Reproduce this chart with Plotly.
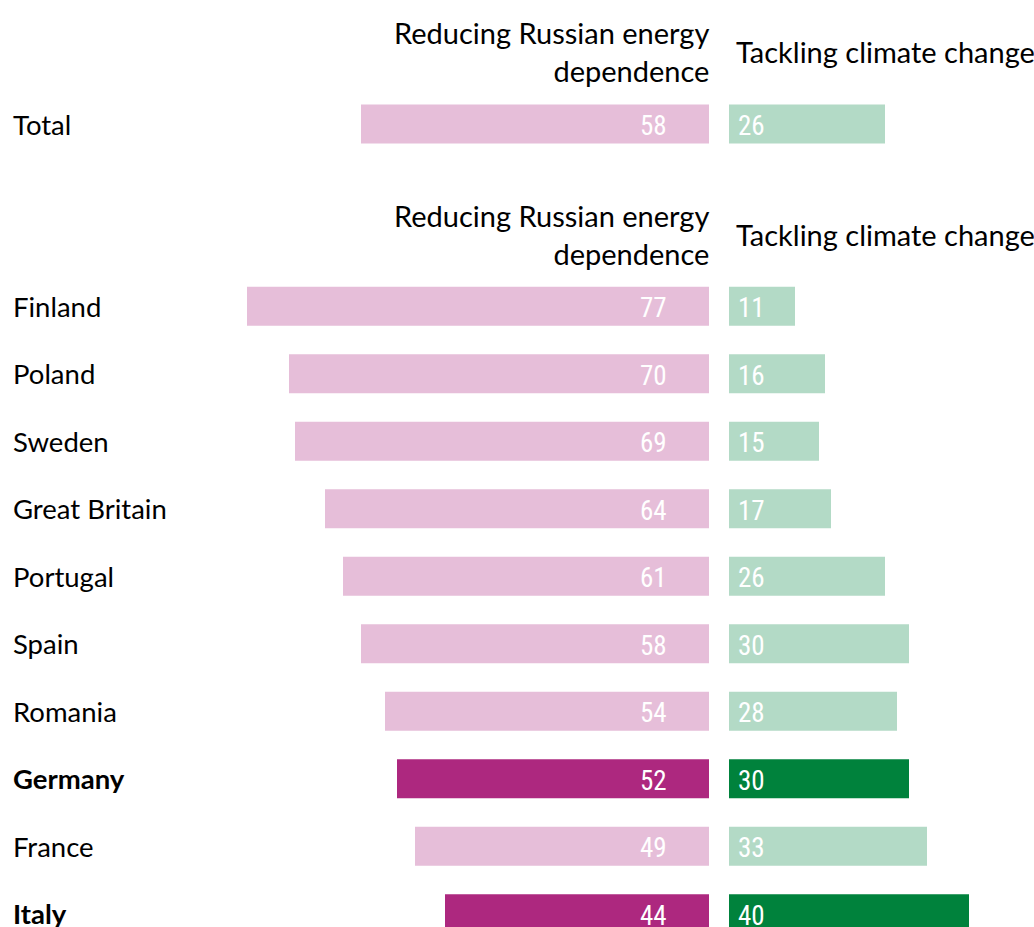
import plotly.graph_objects as go

# Survey shares (%) by country: priority for reducing Russian energy dependence vs tackling climate change
countries = ["Finland", "Poland", "Sweden", "Great Britain", "Portugal",
             "Spain", "Romania", "Germany", "France", "Italy"]
energy = [77, 70, 69, 64, 61, 58, 54, 52, 49, 44]
climate = [11, 16, 15, 17, 26, 30, 28, 30, 33, 40]
highlighted = ["Germany", "Italy"]

total_label = "Total"
total_energy = 58
total_climate = 26

energy_header = "Reducing Russian energy<br>dependence"
climate_header = "Tackling climate change"

PINK_LIGHT, PINK_DARK = "#E6BED9", "#AD287F"
GREEN_LIGHT, GREEN_DARK = "#B3DAC6", "#00823C"

FONT = "Lato, 'Noto Sans', sans-serif"
NUM_FONT = "'Liberation Sans Narrow', 'Roboto Condensed', 'DejaVu Sans Condensed', sans-serif"

W, H = 1034, 927
ROW_PX = 67.5          # vertical spacing between rows, in pixels
TOP_PX = 124           # pixel centre of the Total row
GAP = 2.7              # rows between Total and first country

labels = [total_label] + countries
e_vals = [total_energy] + energy
c_vals = [total_climate] + climate
ypos = [0] + [GAP + i for i in range(len(countries))]
bold = [lab in highlighted for lab in labels]
e_cols = [PINK_DARK if b else PINK_LIGHT for b in bold]
c_cols = [GREEN_DARK if b else GREEN_LIGHT for b in bold]

# Pixel scale: 6 px per percentage point, pink bars grow left from x=709, green right from x=729
PX_PER = 6.0
E_BASE, C_BASE = 709, 729
x1_range = [E_BASE / PX_PER, (E_BASE - W) / PX_PER]
x2_range = [-C_BASE / PX_PER, (W - C_BASE) / PX_PER]
y_range = [(H - TOP_PX) / ROW_PX, -TOP_PX / ROW_PX]

BAR_W = 39 / ROW_PX

fig = go.Figure()
fig.add_trace(go.Bar(
    x=e_vals, y=ypos, orientation="h", width=BAR_W,
    marker=dict(color=e_cols, line=dict(width=0)),
    xaxis="x", yaxis="y", hoverinfo="skip",
))
fig.add_trace(go.Bar(
    x=c_vals, y=ypos, orientation="h", width=BAR_W,
    marker=dict(color=c_cols, line=dict(width=0)),
    xaxis="x2", yaxis="y", hoverinfo="skip",
))

annotations = []

# Value labels inside the bars, near their shared base
num_font = dict(family=NUM_FONT, size=27, color="white")
for y, ev, cv in zip(ypos, e_vals, c_vals):
    annotations.append(dict(
        x=0, xref="x", y=y, yref="y", xanchor="right", yanchor="middle",
        xshift=-40, yshift=-2, text=str(ev), showarrow=False, font=num_font,
    ))
    annotations.append(dict(
        x=0, xref="x2", y=y, yref="y", xanchor="left", yanchor="middle",
        xshift=7, yshift=-2, text=str(cv), showarrow=False, font=num_font,
    ))

for lab, y, b in zip(labels, ypos, bold):
    annotations.append(dict(
        x=11 / W, xref="paper", y=y, yref="y", xanchor="left", yanchor="middle",
        text=f"<b>{lab}</b>" if b else lab, showarrow=False,
        font=dict(family=FONT, size=27.5, color="black"),
    ))

# Column headers above the Total row and above the country block
head_font = dict(family=FONT, size=29, color="black")
for y_head in (-1.07, GAP - 1.07):
    annotations.append(dict(
        x=(E_BASE + 2) / W, xref="paper", y=y_head, yref="y", xanchor="right", yanchor="middle",
        text=energy_header, align="right", showarrow=False, font=head_font,
    ))
    annotations.append(dict(
        x=(C_BASE + 5) / W, xref="paper", y=y_head, yref="y", xanchor="left", yanchor="middle",
        text=climate_header, align="left", showarrow=False, font=head_font,
    ))

fig.update_layout(
    width=W, height=H, margin=dict(l=0, r=0, t=0, b=0),
    paper_bgcolor="white", plot_bgcolor="white",
    showlegend=False, barmode="overlay",
    xaxis=dict(range=x1_range, domain=[0, 1], visible=False, fixedrange=True),
    xaxis2=dict(range=x2_range, domain=[0, 1], overlaying="x", visible=False, fixedrange=True),
    yaxis=dict(range=y_range, visible=False, fixedrange=True),
    annotations=annotations,
)

fig.write_html("out.html")
